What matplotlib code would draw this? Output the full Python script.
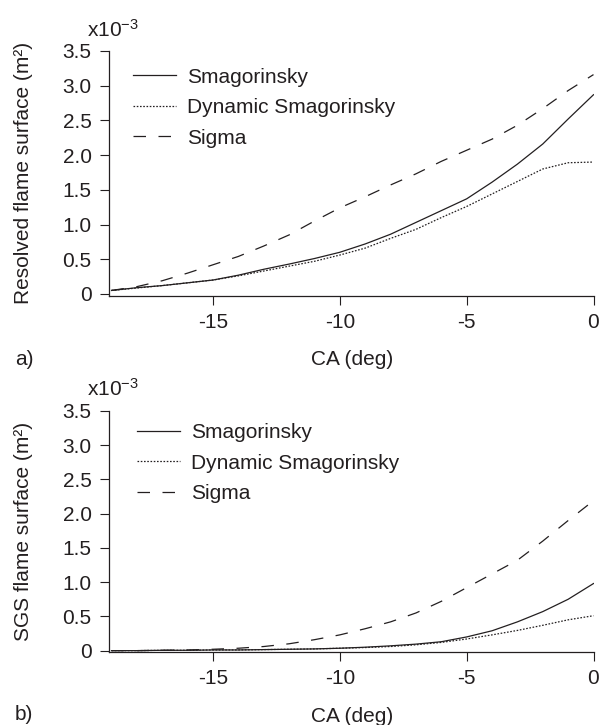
import matplotlib
matplotlib.use("Agg")
import matplotlib.pyplot as plt

plt.rcParams['font.family'] = ['Liberation Sans', 'DejaVu Sans']
plt.rcParams['mathtext.fontset'] = 'custom'
plt.rcParams['mathtext.rm'] = 'Liberation Sans'

# crank angle (deg)
ca = [-19, -18, -17, -16, -15, -14, -13, -12, -11, -10,
      -9, -8, -7, -6, -5, -4, -3, -2, -1, 0]

# a) resolved flame surface (x1e-3 m^2)
res_smag = [0.05, 0.09, 0.12, 0.16, 0.20, 0.27, 0.355, 0.43, 0.51, 0.60,
            0.72, 0.86, 1.03, 1.20, 1.37, 1.61, 1.87, 2.16, 2.52, 2.87]
res_dyn = [0.05, 0.085, 0.12, 0.16, 0.20, 0.26, 0.33, 0.40, 0.47, 0.56,
           0.66, 0.80, 0.93, 1.10, 1.26, 1.44, 1.62, 1.80, 1.89, 1.90]
res_sigma = [0.05, 0.105, 0.19, 0.30, 0.42, 0.54, 0.69, 0.85, 1.05, 1.24,
             1.40, 1.57, 1.73, 1.91, 2.07, 2.23, 2.43, 2.67, 2.93, 3.16]

# b) SGS flame surface (x1e-3 m^2)
sgs_smag = [0.0, 0.0, 0.005, 0.005, 0.01, 0.01, 0.015, 0.02, 0.025, 0.035,
            0.05, 0.07, 0.095, 0.13, 0.20, 0.29, 0.42, 0.57, 0.75, 0.98]
sgs_dyn = [0.0, 0.0, 0.005, 0.005, 0.01, 0.01, 0.015, 0.02, 0.025, 0.035,
           0.045, 0.06, 0.085, 0.12, 0.17, 0.23, 0.295, 0.37, 0.45, 0.51]
sgs_sigma = [0.0, 0.0, 0.005, 0.01, 0.02, 0.035, 0.06, 0.10, 0.16, 0.23,
             0.32, 0.42, 0.55, 0.72, 0.92, 1.12, 1.32, 1.60, 1.90, 2.19]

labels = ['Smagorinsky', 'Dynamic Smagorinsky', 'Sigma']
yticks = [0, 0.5, 1.0, 1.5, 2.0, 2.5, 3.0, 3.5]
ytick_labels = ['0', '0.5', '1.0', '1.5', '2.0', '2.5', '3.0', '3.5']
xticks = [-15, -10, -5, 0]
xtick_labels = ['-15', '-10', '-5', '0']

ink = '#231f20'
fs = 15
W, H = 603, 725

fig = plt.figure(figsize=(W / 100, H / 100), dpi=100)

def px_rect(left, top, right, bottom):
    return [left / W, 1 - bottom / H, (right - left) / W, (bottom - top) / H]

ax1 = fig.add_axes(px_rect(109, 51, 593.5, 296))
ax2 = fig.add_axes(px_rect(109, 411, 593.5, 652))

def draw(ax, s, d, g, ylab, ybot, leg_xy, tag, tag_y, xl_y, ylab_y):
    ax.plot(ca, s, color=ink, lw=0.9, label=labels[0])
    ax.plot(ca, d, color=ink, lw=0.9, dashes=(1.3, 1.3), label=labels[1])
    ax.plot(ca, g, color=ink, lw=0.9, dashes=(10, 10), label=labels[2])
    ax.set_xlim(-19.1, 0)
    ax.set_ylim(ybot, 3.5)
    ax.spines['top'].set_visible(False)
    ax.spines['right'].set_visible(False)
    for sp in ['left', 'bottom']:
        ax.spines[sp].set_linewidth(0.9)
        ax.spines[sp].set_color(ink)
    ax.set_yticks(yticks)
    ax.set_yticklabels(ytick_labels)
    ax.set_xticks(xticks)
    ax.set_xticklabels(xtick_labels)
    ax.tick_params(direction='out', length=6.5, width=0.8, colors=ink,
                   labelsize=fs, pad=6)
    leg = ax.legend(loc='upper left', bbox_to_anchor=leg_xy, frameon=False,
                    fontsize=fs, handlelength=2.05, handletextpad=0.55,
                    labelspacing=0.55, borderpad=0, borderaxespad=0)
    for t in leg.get_texts():
        t.set_color(ink)
    fig.text(24 / W, 1 - ylab_y / H, ylab, rotation=90, ha='center',
             va='center', fontsize=fs, color=ink)
    fig.text(352 / W, 1 - xl_y / H, 'CA (deg)', ha='center', va='center',
             fontsize=fs, color=ink)
    fig.text(15 / W, 1 - tag_y / H, tag, ha='left', va='center',
             fontsize=fs, color=ink)

draw(ax1, res_smag, res_dyn, res_sigma, 'Resolved flame surface (m²)',
     -0.03, (0.05, 0.932), 'a)', 359, 359, 173)
draw(ax2, sgs_smag, sgs_dyn, sgs_sigma, 'SGS flame surface (m²)',
     -0.02, (0.058, 0.95), 'b)', 714, 717, 531)

fig.text(87 / W, 1 - 30 / H, r'$\mathregular{x10^{-3}}$', ha='left',
         va='center', fontsize=fs, color=ink)
fig.text(87 / W, 1 - 389 / H, r'$\mathregular{x10^{-3}}$', ha='left',
         va='center', fontsize=fs, color=ink)

fig.savefig('out.png', dpi=100, facecolor='white')
